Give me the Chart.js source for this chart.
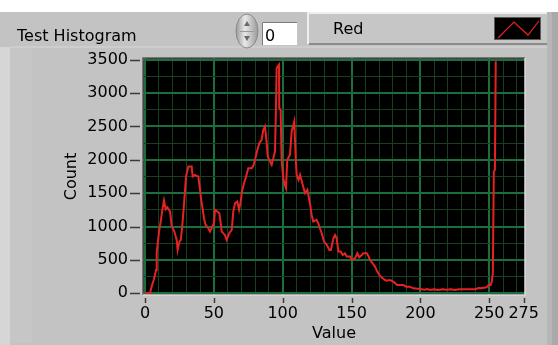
<!DOCTYPE html>
<html>
<head>
<meta charset="utf-8">
<script src="https://cdn.jsdelivr.net/npm/chart.js@4/dist/chart.umd.min.js"></script>
<style>
  html, body { margin: 0; padding: 0; background: #fff; }
  #wrap { width: 558px; height: 345px; }
</style>
</head>
<body>
<div id="wrap"><canvas id="histChart" width="558" height="345"></canvas></div>
<script>
// histogram: pixel value -> count
const binValues = [
  0, 2, 3.6, 4.8, 6.5, 8, 8.5, 10.2, 11.4, 12.6, 13.8, 15, 16.2, 18.2, 19.4,
  21.3, 23, 23.7, 25, 26, 27, 28.3, 29.8, 31.5, 33.9, 34.6, 36.3, 37.5, 38.7,
  40, 40.8, 41.9, 42.8, 44, 46, 47.2, 48.4, 50.1, 50.8, 52.5, 54, 55, 55.7,
  58, 59.3, 61.2, 63, 64.1, 65.4, 67, 68.3, 69.5, 70.4, 71.9, 73.1, 75, 77.5,
  78.7, 79.9, 81.6, 83, 84.7, 85.9, 87.1, 88.4, 89.1, 90.8, 92, 93.2, 94.4,
  95.1, 95.6, 97.3, 97.5, 98.5, 99.2, 100.4, 101.5, 102.4, 103.3, 105.3,
  106.5, 108.4, 109.4, 110.1, 111.5, 112.6, 114.5, 116.2, 117.9, 119.8, 121,
  122.2, 124.6, 125.8, 127, 128.3, 130, 132, 133.9, 135, 136.8, 138, 139.2,
  140.4, 142.1, 143.6, 145.2, 146.5, 148.9, 150.1, 152.5, 154.2, 155.6, 157.4,
  158.5, 161, 162.2, 163.4, 165.3, 167, 168.7, 170.7, 172.6, 175, 177.9, 180.3,
  183.2, 187.6, 189.5, 192.4, 194.8, 199.7, 203, 205, 207, 210, 213, 216, 219,
  222, 225, 228, 230, 235, 240, 242, 244, 246, 248, 249.5, 251, 251.8, 252.6,
  253.3, 254.1, 254.7
];
const binCounts = [
  0, 0, 0, 100, 210, 350, 610, 925, 1075, 1250, 1390, 1260, 1290, 1225, 1010,
  925, 800, 650, 775, 800, 1000, 1325, 1750, 1900, 1900, 1750, 1775, 1760, 1750,
  1550, 1400, 1260, 1125, 1025, 975, 925, 975, 1050, 1250, 1225, 1200, 1050, 925,
  875, 800, 900, 950, 1225, 1350, 1375, 1250, 1375, 1525, 1650, 1725, 1875, 1875,
  1910, 2000, 2150, 2250, 2300, 2450, 2500, 2250, 2050, 1975, 1925, 2025, 2125,
  2775, 3375, 3425, 2775, 2750, 2000, 1725, 1625, 1575, 2000, 2075,
  2425, 2575, 2050, 1775, 1700, 1775, 1625, 1500, 1550, 1350, 1175,
  1075, 1100, 1050, 975, 900, 775, 725, 650, 650, 825, 875, 825,
  625, 625, 575, 600, 550, 550, 500, 525, 600, 540, 575,
  600, 600, 560, 500, 450, 400, 325, 260, 225, 190, 200, 175,
  125, 125, 100, 100, 75, 65, 55, 65, 50, 60, 50, 60, 55,
  60, 50, 60, 60, 60, 60, 80, 75, 85, 90, 125, 125, 175, 300,
  1825, 1850, 3475
];

const xTickLabels = [0, 50, 100, 150, 200, 250, 275];
const yTickLabels = [0, 500, 1000, 1500, 2000, 2500, 3000, 3500];
const graphName = 'Test Histogram';
const plotName = 'Red';
const xTitle = 'Value';
const yTitle = 'Count';

const PANEL = '#c3c3c3';
const GRID_MAJOR = '#1d6e3d';
const GRID_MINOR = '#15401f';
const PLOT_RED = '#e62222';
const FONT = 'DejaVu Sans';

// grid positions: minor lines every 10 (x) / 250 (y), plus the 275 end tick
const xGrid = [];
for (let v = 0; v <= 270; v += 10) xGrid.push(v);
xGrid.push(275);
const yGrid = [];
for (let v = 0; v <= 3500; v += 250) yGrid.push(v);

const xGridColor = v => (v === 275 ? 'rgba(0,0,0,0)' : v % 50 === 0 ? GRID_MAJOR : GRID_MINOR);

const panelPlugin = {
  id: 'panel',
  beforeDraw(chart) {
    const { ctx, chartArea: a } = chart;
    ctx.save();
    ctx.fillStyle = '#ffffff';
    ctx.fillRect(0, 0, 558, 12);
    ctx.fillStyle = PANEL;
    ctx.fillRect(0, 12, 558, 333);

    // graph frame bevels
    ctx.fillStyle = '#d6d6d6';
    ctx.fillRect(0, 47, 10, 298);
    ctx.fillStyle = '#c6c6c6';
    ctx.fillRect(10, 47, 22, 296);
    ctx.fillStyle = '#cdcdcd';
    ctx.fillRect(10, 46, 537, 2);
    ctx.fillStyle = '#b6b6b6';
    ctx.fillRect(547, 12, 5, 333);
    ctx.fillStyle = '#a9a9a9';
    ctx.fillRect(552, 12, 6, 333);

    // label
    ctx.fillStyle = '#000';
    ctx.font = '16px "' + FONT + '"';
    ctx.textBaseline = 'alphabetic';
    ctx.fillText(graphName, 17, 40.5);

    // spinner
    const sg = ctx.createLinearGradient(236, 0, 258, 0);
    sg.addColorStop(0, '#9a9a9a');
    sg.addColorStop(0.4, '#e8e8e8');
    sg.addColorStop(1, '#9a9a9a');
    ctx.fillStyle = sg;
    ctx.beginPath();
    ctx.ellipse(247, 31, 11, 17, 0, 0, Math.PI * 2);
    ctx.fill();
    ctx.strokeStyle = '#8a8a8a';
    ctx.lineWidth = 1;
    ctx.stroke();
    ctx.fillStyle = '#6a6a6a';
    ctx.beginPath();
    ctx.moveTo(244, 26); ctx.lineTo(247, 21); ctx.lineTo(250, 26); ctx.closePath();
    ctx.fill();
    ctx.beginPath();
    ctx.moveTo(244, 36); ctx.lineTo(247, 41); ctx.lineTo(250, 36); ctx.closePath();
    ctx.fill();
    ctx.strokeStyle = '#9a9a9a';
    ctx.beginPath(); ctx.moveTo(240, 31.5); ctx.lineTo(254, 31.5); ctx.stroke();

    // numeric box
    ctx.fillStyle = '#ffffff';
    ctx.fillRect(262, 22, 35, 23);
    ctx.strokeStyle = '#7a7a7a';
    ctx.beginPath(); ctx.moveTo(262.5, 45); ctx.lineTo(262.5, 22.5); ctx.lineTo(297, 22.5); ctx.stroke();
    ctx.fillStyle = '#000';
    ctx.fillText('0', 265, 40.5);

    // plot legend
    ctx.fillStyle = '#c6c6c6';
    ctx.fillRect(307, 12, 240, 32);
    ctx.strokeStyle = '#eeeeee';
    ctx.lineWidth = 2;
    ctx.beginPath(); ctx.moveTo(308, 44); ctx.lineTo(308, 13); ctx.lineTo(547, 13); ctx.stroke();
    ctx.strokeStyle = '#8c8c8c';
    ctx.beginPath(); ctx.moveTo(309, 44); ctx.lineTo(547, 44); ctx.stroke();
    ctx.fillStyle = '#000';
    ctx.fillText(plotName, 333, 34);
    ctx.fillStyle = '#000';
    ctx.fillRect(494, 17, 47, 23);
    ctx.strokeStyle = '#5a5a5a';
    ctx.lineWidth = 1;
    ctx.strokeRect(494.5, 17.5, 46, 22);
    ctx.strokeStyle = PLOT_RED;
    ctx.lineWidth = 1.2;
    ctx.beginPath();
    ctx.moveTo(498, 38); ctx.lineTo(514, 22); ctx.lineTo(528, 35); ctx.lineTo(539, 21);
    ctx.stroke();

    // plot background
    ctx.fillStyle = '#000';
    ctx.fillRect(a.left, a.top, a.right - a.left, a.bottom - a.top);
    ctx.restore();
  },
  afterDraw(chart) {
    const { ctx, chartArea: a, scales } = chart;
    ctx.save();
    // recessed frame
    ctx.lineWidth = 1.5;
    ctx.strokeStyle = '#5c5c5c';
    ctx.beginPath();
    ctx.moveTo(a.left, a.bottom); ctx.lineTo(a.left, a.top); ctx.lineTo(a.right, a.top);
    ctx.stroke();
    ctx.strokeStyle = '#dcdcdc';
    ctx.beginPath();
    ctx.moveTo(a.right, a.top); ctx.lineTo(a.right, a.bottom); ctx.lineTo(a.left, a.bottom);
    ctx.stroke();

    // tick marks
    ctx.strokeStyle = '#3a3a3a';
    ctx.lineWidth = 1.5;
    for (const v of xTickLabels) {
      const px = Math.round(scales.x.getPixelForValue(v)) + 0.5;
      ctx.beginPath(); ctx.moveTo(px, 298); ctx.lineTo(px, 303); ctx.stroke();
    }
    for (const v of yTickLabels) {
      const py = Math.round(scales.y.getPixelForValue(v)) + 0.5;
      ctx.beginPath(); ctx.moveTo(130, py); ctx.lineTo(140, py); ctx.stroke();
    }
    ctx.restore();
  }
};

let ctx = document.getElementById('histChart').getContext('2d');
let chart = new Chart(ctx, {
  type: 'line',
  data: {
    datasets: [
      {
        label: plotName,
        data: binValues.map((v, i) => ({ x: v, y: binCounts[i] })),
        borderColor: PLOT_RED,
        borderWidth: 2,
        pointRadius: 0,
        tension: 0,
        fill: false
      }
    ]
  },
  options: {
    responsive: false,
    animation: false,
    devicePixelRatio: 1,
    layout: { padding: { left: 0, top: 58, right: 33, bottom: 0 } },
    plugins: {
      legend: { display: false },
      tooltip: { enabled: false }
    },
    scales: {
      x: {
        type: 'linear',
        min: -1.45,
        max: 275.95,
        afterBuildTicks: s => { s.ticks = xGrid.map(v => ({ value: v })); },
        afterFit: s => { s.height = 50; },
        border: { display: false },
        grid: {
          drawTicks: false,
          color: c => xGridColor(c.tick.value),
          lineWidth: c => (c.tick.value % 50 === 0 ? 2 : 1)
        },
        ticks: {
          autoSkip: false,
          maxRotation: 0,
          padding: 9,
          color: '#000',
          font: { family: FONT, size: 16 },
          callback: v => (xTickLabels.includes(v) ? String(v) : '')
        },
        title: {
          display: true,
          text: xTitle,
          color: '#000',
          font: { family: FONT, size: 16 },
          padding: { top: 0, bottom: 2 }
        }
      },
      y: {
        min: -25,
        max: 3525,
        afterBuildTicks: s => { s.ticks = yGrid.map(v => ({ value: v })); },
        afterFit: s => { s.width = 143; },
        border: { display: false },
        grid: {
          drawTicks: false,
          color: c => (c.tick.value % 500 === 0 ? GRID_MAJOR : GRID_MINOR),
          lineWidth: c => (c.tick.value % 500 === 0 ? 2 : 1)
        },
        ticks: {
          autoSkip: false,
          padding: 15,
          color: '#000',
          font: { family: FONT, size: 16 },
          callback: v => (yTickLabels.includes(v) ? String(v) : '')
        },
        title: {
          display: true,
          text: yTitle,
          color: '#000',
          font: { family: FONT, size: 16 },
          padding: { top: 62, bottom: 0 }
        }
      }
    }
  },
  plugins: [panelPlugin]
});
</script>
</body>
</html>
